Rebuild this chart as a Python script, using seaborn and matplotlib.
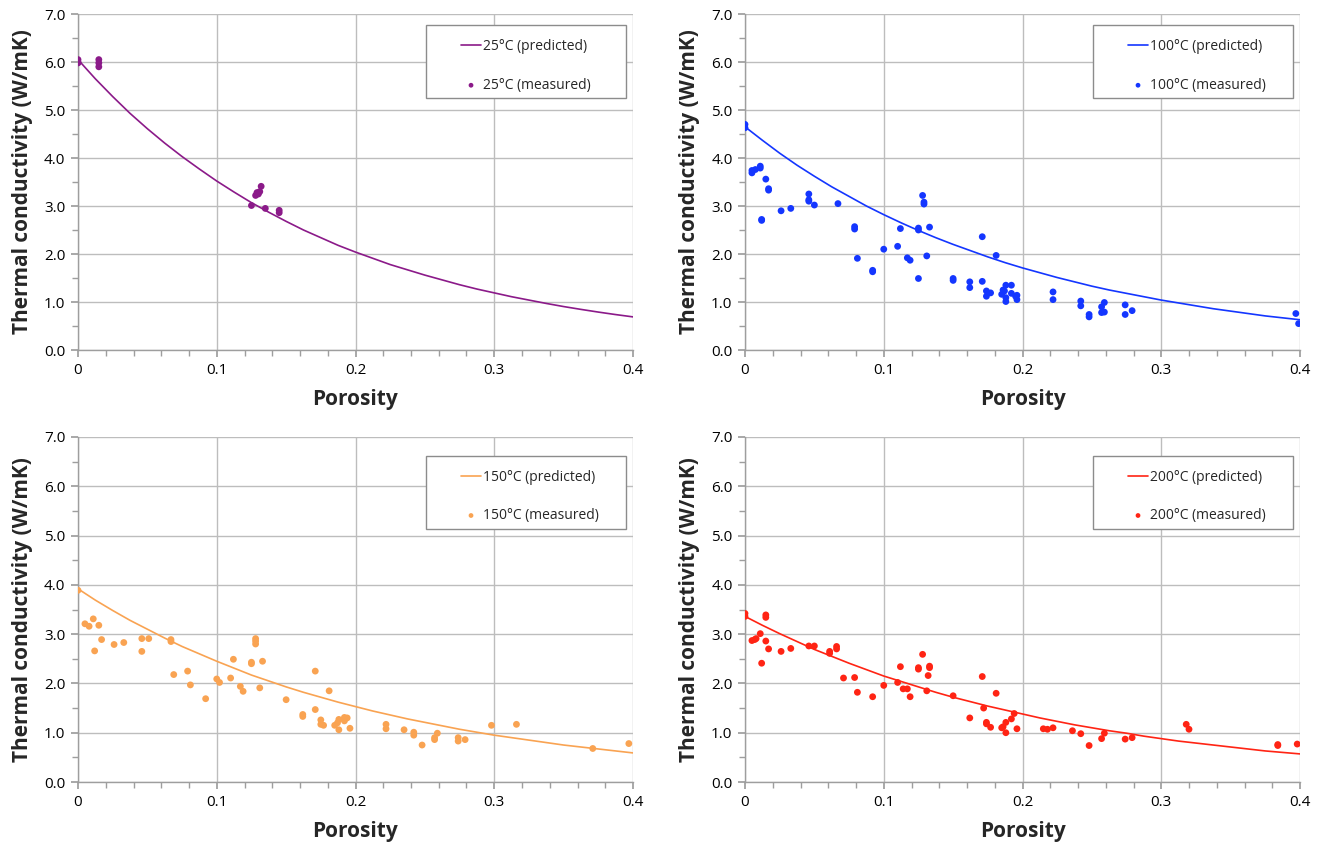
import numpy as np
import pandas as pd
import matplotlib
matplotlib.use("Agg")
import matplotlib.pyplot as plt
from matplotlib.ticker import MultipleLocator, FixedLocator
from matplotlib.patches import Rectangle
import seaborn as sns

# ---------------- data ----------------
curve_x = [0, 0.0125, 0.025, 0.0375, 0.05, 0.0625, 0.075, 0.0875, 0.1, 0.1125,
           0.125, 0.1375, 0.15, 0.1625, 0.175, 0.1875, 0.2, 0.2125, 0.225,
           0.2375, 0.25, 0.2625, 0.275, 0.2875, 0.3, 0.3125, 0.325, 0.3375,
           0.35, 0.3625, 0.375, 0.3875, 0.4]

pred_25 = [6.05, 5.65, 5.28, 4.93, 4.61, 4.31, 4.03, 3.77, 3.52, 3.29, 3.07,
           2.87, 2.68, 2.50, 2.34, 2.18, 2.04, 1.91, 1.78, 1.67, 1.56, 1.46,
           1.36, 1.27, 1.19, 1.11, 1.04, 0.97, 0.905, 0.846, 0.79, 0.738, 0.69]
pred_100 = [4.65, 4.37, 4.10, 3.85, 3.62, 3.40, 3.20, 3.00, 2.82, 2.65, 2.49,
            2.34, 2.20, 2.07, 1.94, 1.82, 1.71, 1.61, 1.51, 1.42, 1.33, 1.25,
            1.18, 1.11, 1.04, 0.98, 0.92, 0.86, 0.81, 0.76, 0.71, 0.67, 0.63]
pred_150 = [3.92, 3.69, 3.48, 3.28, 3.10, 2.92, 2.75, 2.60, 2.45, 2.31, 2.17,
            2.05, 1.93, 1.82, 1.72, 1.62, 1.53, 1.44, 1.36, 1.28, 1.21, 1.14,
            1.07, 1.01, 0.95, 0.90, 0.85, 0.80, 0.75, 0.71, 0.67, 0.63, 0.59]
pred_200 = [3.36, 3.18, 3.01, 2.85, 2.69, 2.55, 2.41, 2.28, 2.15, 2.04, 1.93,
            1.82, 1.72, 1.63, 1.54, 1.46, 1.38, 1.30, 1.23, 1.16, 1.10, 1.04,
            0.99, 0.93, 0.88, 0.83, 0.79, 0.75, 0.71, 0.67, 0.63, 0.60, 0.57]

meas_25_x = [0, 0, 0, 0.015, 0.015, 0.015, 0.125, 0.128, 0.129, 0.130, 0.131,
             0.132, 0.135, 0.145, 0.145]
meas_25_y = [6.05, 6.0, 5.98, 6.05, 5.98, 5.9, 3.01, 3.22, 3.28, 3.25, 3.30,
             3.41, 2.95, 2.91, 2.86]

meas_100_x = [0, 0, 0.005, 0.005, 0.0075, 0.011, 0.011, 0.015, 0.017, 0.017,
              0.012, 0.012, 0.026, 0.033, 0.046, 0.046, 0.046, 0.050, 0.067,
              0.079, 0.079, 0.081, 0.092, 0.092, 0.100, 0.110, 0.112, 0.117,
              0.119, 0.125, 0.125, 0.125, 0.128, 0.129, 0.129, 0.131, 0.133,
              0.150, 0.150, 0.162, 0.162, 0.171, 0.171, 0.174, 0.174, 0.177,
              0.181, 0.185, 0.186, 0.187, 0.188, 0.188, 0.188, 0.192, 0.192,
              0.195, 0.196, 0.196, 0.222, 0.222, 0.242, 0.242, 0.248, 0.248,
              0.257, 0.257, 0.259, 0.259, 0.274, 0.274, 0.279, 0.397, 0.399]
meas_100_y = [4.70, 4.63, 3.69, 3.74, 3.76, 3.79, 3.83, 3.56, 3.36, 3.33,
              2.72, 2.70, 2.90, 2.95, 3.25, 3.13, 3.10, 3.02, 3.05,
              2.57, 2.52, 1.91, 1.66, 1.63, 2.10, 2.16, 2.53, 1.92,
              1.87, 2.54, 2.50, 1.49, 3.22, 3.08, 3.04, 1.96, 2.56,
              1.49, 1.45, 1.42, 1.30, 2.36, 1.43, 1.23, 1.12, 1.19,
              1.97, 1.16, 1.25, 1.23, 1.35, 1.09, 1.01, 1.35, 1.18,
              1.12, 1.05, 1.14, 1.21, 1.05, 1.02, 0.92, 0.74, 0.69,
              0.90, 0.78, 0.99, 0.79, 0.94, 0.74, 0.82, 0.76, 0.55]

meas_150_x = [0, 0.005, 0.008, 0.011, 0.012, 0.015, 0.017, 0.026, 0.033,
              0.046, 0.046, 0.051, 0.067, 0.067, 0.069, 0.079, 0.081, 0.092,
              0.100, 0.102, 0.110, 0.112, 0.117, 0.119, 0.125, 0.125, 0.128,
              0.128, 0.128, 0.131, 0.133, 0.150, 0.162, 0.162, 0.171, 0.171,
              0.175, 0.175, 0.177, 0.181, 0.185, 0.187, 0.188, 0.188, 0.192,
              0.192, 0.194, 0.196, 0.222, 0.222, 0.235, 0.242, 0.242, 0.248,
              0.257, 0.257, 0.259, 0.274, 0.274, 0.279, 0.298, 0.316, 0.371,
              0.397]
meas_150_y = [3.89, 3.21, 3.16, 3.31, 2.66, 3.18, 2.89, 2.79, 2.83,
              2.91, 2.65, 2.91, 2.89, 2.85, 2.18, 2.25, 1.97, 1.69,
              2.09, 2.02, 2.11, 2.49, 1.94, 1.84, 2.43, 2.40, 2.91,
              2.86, 2.80, 1.91, 2.45, 1.67, 1.37, 1.33, 2.25, 1.47,
              1.26, 1.17, 1.15, 1.85, 1.15, 1.20, 1.27, 1.06, 1.31,
              1.24, 1.30, 1.09, 1.17, 1.08, 1.06, 1.01, 0.95, 0.75,
              0.86, 0.90, 0.99, 0.90, 0.83, 0.86, 1.15, 1.17, 0.68,
              0.78]

meas_200_x = [0, 0, 0.005, 0.007, 0.008, 0.011, 0.012, 0.015, 0.015, 0.015,
              0.017, 0.026, 0.033, 0.046, 0.050, 0.061, 0.061, 0.066, 0.066,
              0.071, 0.079, 0.081, 0.092, 0.100, 0.110, 0.112, 0.114, 0.117,
              0.119, 0.125, 0.125, 0.128, 0.132, 0.131, 0.133, 0.133, 0.150,
              0.162, 0.171, 0.172, 0.174, 0.174, 0.177, 0.181, 0.185, 0.186,
              0.188, 0.188, 0.192, 0.194, 0.196, 0.215, 0.218, 0.222, 0.236,
              0.242, 0.248, 0.257, 0.259, 0.274, 0.279, 0.318, 0.320, 0.384,
              0.384, 0.398]
meas_200_y = [3.42, 3.36, 2.87, 2.89, 2.91, 3.01, 2.41, 2.86, 3.39, 3.34,
              2.70, 2.65, 2.71, 2.76, 2.76, 2.65, 2.61, 2.75, 2.70,
              2.11, 2.12, 1.82, 1.73, 1.96, 2.02, 2.34, 1.89, 1.89,
              1.73, 2.32, 2.29, 2.59, 2.16, 1.85, 2.35, 2.32, 1.75,
              1.30, 2.14, 1.50, 1.21, 1.18, 1.11, 1.80, 1.10, 1.12,
              1.21, 1.00, 1.28, 1.39, 1.08, 1.08, 1.07, 1.10, 1.04,
              0.98, 0.74, 0.88, 0.99, 0.87, 0.90, 1.17, 1.07, 0.74,
              0.76, 0.77]

panels = [
    ("25°C", "#8B1A89", pred_25, meas_25_x, meas_25_y),
    ("100°C", "#1436FF", pred_100, meas_100_x, meas_100_y),
    ("150°C", "#F9A352", pred_150, meas_150_x, meas_150_y),
    ("200°C", "#FF2414", pred_200, meas_200_x, meas_200_y),
]

x_ticks = [0, 0.1, 0.2, 0.3, 0.4]
x_tick_labels = ["0", "0.1", "0.2", "0.3", "0.4"]
y_ticks = [0, 1, 2, 3, 4, 5, 6, 7]
y_tick_labels = ["0.0", "1.0", "2.0", "3.0", "4.0", "5.0", "6.0", "7.0"]

# ---------------- plot ----------------
sns.set_theme(style="white")
plt.rcParams['font.family'] = ['Open Sans', 'DejaVu Sans']

fig = plt.figure(figsize=(13.2, 8.42), dpi=100)
positions = [
    (78 / 1320, 1 - 350 / 842, 555 / 1320, 336 / 842),
    (745 / 1320, 1 - 350 / 842, 555 / 1320, 336 / 842),
    (78 / 1320, 1 - 782 / 842, 555 / 1320, 345 / 842),
    (745 / 1320, 1 - 782 / 842, 555 / 1320, 345 / 842),
]
# legend box (axes fraction): left, bottom, width, height ; entry anchor
leg_boxes = [
    ((0.627, 0.751), 0.360, 0.217, (0.690, 0.845)),
    ((0.627, 0.751), 0.360, 0.217, (0.690, 0.845)),
    ((0.627, 0.733), 0.360, 0.212, (0.690, 0.828)),
    ((0.627, 0.733), 0.360, 0.212, (0.690, 0.828)),
]

grid_c = "#BDBDBD"
for pos, lb, (name, col, pred, mx, my) in zip(positions, leg_boxes, panels):
    ax = fig.add_axes(pos)
    dfl = pd.DataFrame({"x": curve_x, "y": pred})
    dfs = pd.DataFrame({"x": mx, "y": my})
    sns.lineplot(data=dfl, x="x", y="y", ax=ax, color=col, lw=1.2,
                 label=f"{name} (predicted)", zorder=3)
    sns.scatterplot(data=dfs, x="x", y="y", ax=ax, color=col, s=24,
                    edgecolor="none", label=f"{name} (measured)", zorder=4)
    ax.set_xlim(0, 0.4)
    ax.set_ylim(0, 7)
    ax.xaxis.set_major_locator(FixedLocator(x_ticks))
    ax.set_xticklabels(x_tick_labels)
    ax.yaxis.set_major_locator(FixedLocator(y_ticks))
    ax.set_yticklabels(y_tick_labels)
    ax.xaxis.set_minor_locator(MultipleLocator(0.02))
    ax.yaxis.set_minor_locator(MultipleLocator(0.5))
    ax.grid(True, which="major", color=grid_c, lw=1.0)
    ax.set_axisbelow(True)
    for s in ["top", "right"]:
        ax.spines[s].set_visible(False)
    for s in ["left", "bottom"]:
        ax.spines[s].set_color("#9E9E9E")
        ax.spines[s].set_linewidth(1.0)
    ax.tick_params(which="both", direction="out", color="#9E9E9E",
                   labelsize=11, labelcolor="black", left=True, bottom=True)
    ax.tick_params(which="major", length=5, pad=4)
    ax.tick_params(which="minor", length=4)
    ax.set_xlabel("Porosity", fontsize=15, fontweight="bold", labelpad=8)
    ax.set_ylabel("Thermal conductivity (W/mK)", fontsize=15,
                  fontweight="bold", labelpad=8)

    (bx, by), bw, bh, (lx, ly) = lb
    ax.add_patch(Rectangle((bx, by), bw, bh, transform=ax.transAxes,
                           facecolor="white", edgecolor="#8C8C8C", lw=1.0,
                           zorder=4.5, clip_on=False))
    leg = ax.legend(loc="center left", bbox_to_anchor=(lx, ly),
                    fontsize=10, frameon=False,
                    handlelength=1.45, handletextpad=0.15, labelspacing=1.7,
                    borderpad=0.0, borderaxespad=0.0, markerscale=0.7)
    leg.set_zorder(6)

fig.savefig("out.png", dpi=100)
